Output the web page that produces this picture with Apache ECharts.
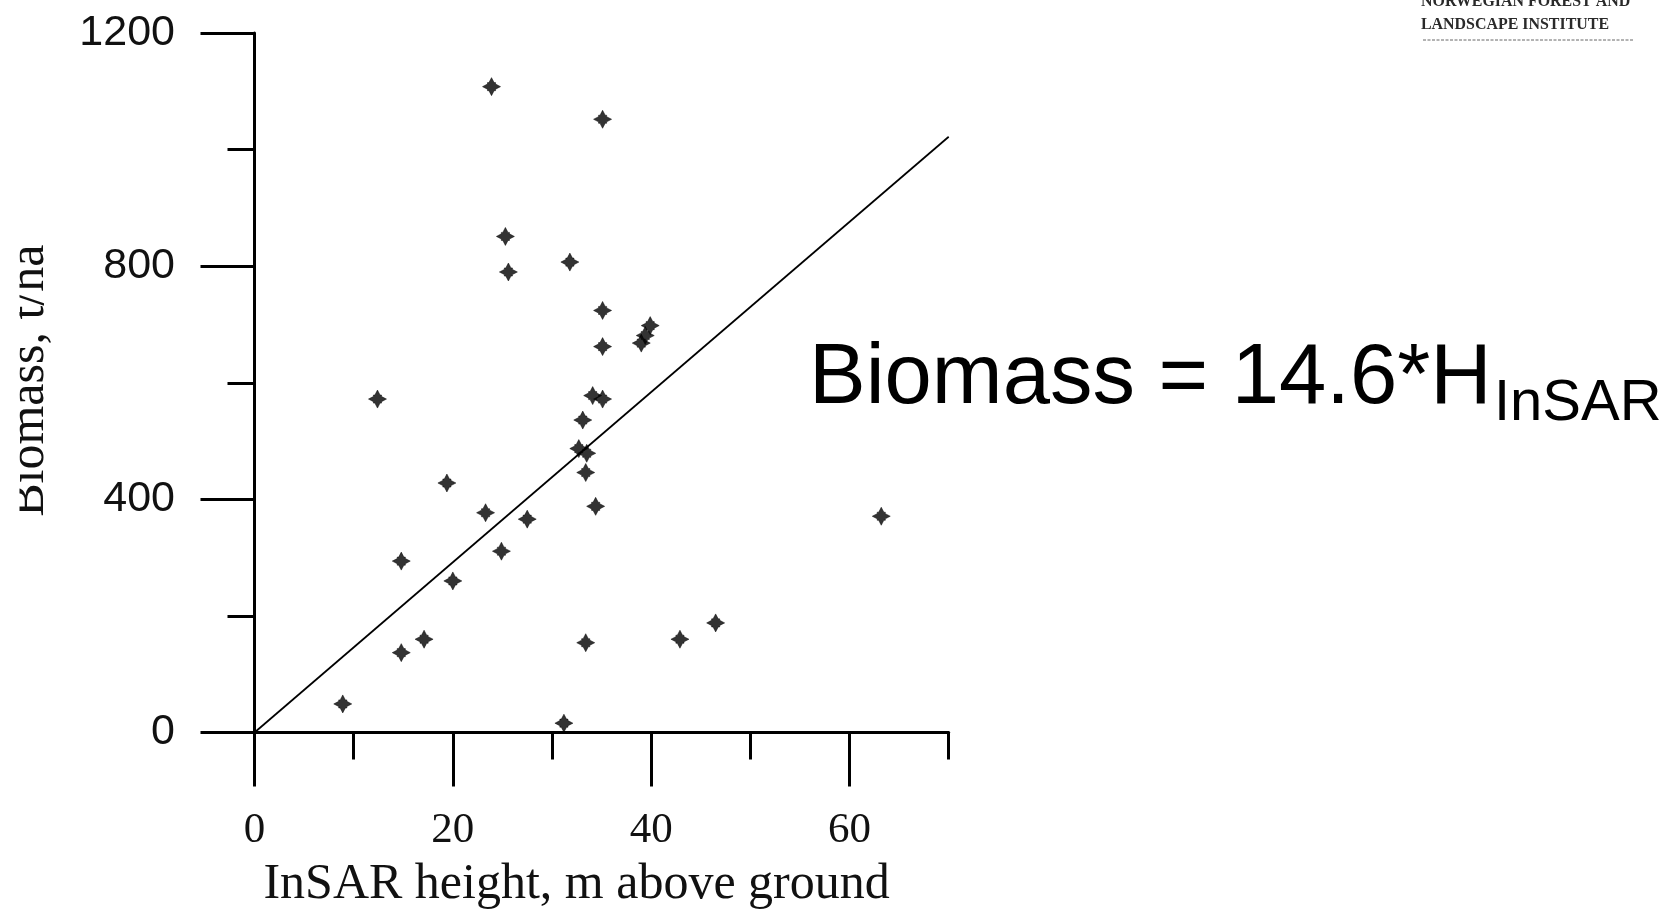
<!DOCTYPE html>
<html>
<head>
<meta charset="utf-8">
<script src="https://cdn.jsdelivr.net/npm/echarts@6/dist/echarts.min.js"></script>
<style>
html,body{margin:0;padding:0;background:#fff;}
#chart{width:1673px;height:910px;}
</style>
</head>
<body>
<div id="chart"></div>
<script>
// InSAR height (m above ground) and biomass (t/ha)
const insarHeight = [23.9, 35.1, 25.3, 25.6, 31.8, 35.1, 39.9, 39.4, 39.0, 35.1,
  12.4, 34.1, 35.1, 33.1, 32.7, 33.5, 33.4, 19.4, 23.3, 27.5,
  34.4, 63.2, 24.9, 14.8, 20.0, 46.5, 17.1, 42.9, 33.4, 14.8,
  8.9, 31.2];
const biomass = [1108, 1052, 851, 790, 807, 724, 698, 681, 668, 662,
  572, 578, 572, 536, 487, 479, 446, 428, 377, 366,
  388, 371, 311, 294, 260, 188, 160, 160, 154, 137,
  49, 16];
// fitted line endpoints
const fitX = [0, 70];
const fitY = [0, 1022];
// axis ticks
const xMajorTicks = [0, 20, 40, 60];
const xMin = 0, xMax = 70, xMinorInterval = 10;
const yMin = 0, yMax = 1200, yInterval = 400;
const equationMain = 'Biomass = 14.6*H';
const equationSub = 'InSAR';
const logoLines = ['NORWEGIAN FOREST AND', 'LANDSCAPE INSTITUTE'];

const points = insarHeight.map((h, i) => [h, biomass[i]]);
const fitData = fitX.map((x, i) => [x, fitY[i]]);

const chart = echarts.init(document.getElementById('chart'), null, {renderer: 'canvas'});
const black = '#000';
chart.setOption({
  animation: false,
  backgroundColor: '#fff',
  grid: {left: 254.5, top: 33, right: 724.3, bottom: 177.5, outerBoundsMode: 'none', containLabel: false},
  xAxis: [{
    type: 'value', position: 'bottom', min: xMin, max: xMax, interval: xMinorInterval,
    axisLine: {show: true, lineStyle: {color: black, width: 3}},
    axisTick: {show: true, length: 27, lineStyle: {color: black, width: 3}},
    axisLabel: {show: false},
    splitLine: {show: false}
  }, {
    type: 'value', position: 'bottom', min: xMin, max: xMax,
    axisLine: {show: false},
    axisTick: {show: true, customValues: xMajorTicks, length: 54, lineStyle: {color: black, width: 3}},
    axisLabel: {show: true, customValues: xMajorTicks, margin: 76.5, fontFamily: 'Liberation Serif', fontSize: 43, color: '#111',
      formatter: v => String(v)},
    splitLine: {show: false},
    name: 'InSAR height, m above ground', nameLocation: 'middle', nameGap: 127.5,
    nameTextStyle: {fontFamily: 'Liberation Serif', fontSize: 50, color: '#111', padding: [0, 50, 0, 0]}
  }],
  yAxis: {
    type: 'value', min: yMin, max: yMax, interval: yInterval,
    axisLine: {show: true, lineStyle: {color: black, width: 3}},
    axisTick: {show: true, length: 54, lineStyle: {color: black, width: 3}},
    minorTick: {show: true, splitNumber: 2, length: 27, lineStyle: {color: black, width: 3}},
    axisLabel: {margin: 79.5, fontFamily: 'Liberation Sans', fontSize: 43, color: '#111', formatter: v => String(v)},
    splitLine: {show: false}, minorSplitLine: {show: false},
    name: 'Biomass, t/ha', nameLocation: 'middle', nameGap: 200,
    nameTextStyle: {fontFamily: 'Liberation Serif', fontSize: 50, color: '#111', padding: [0, 0, 0, 4]}
  },
  series: [{
    type: 'line', xAxisIndex: 0, data: fitData, symbol: 'none',
    lineStyle: {color: black, width: 1.7}, z: 2, silent: true
  }, {
    type: 'scatter', xAxisIndex: 0, data: points,
    symbol: 'path://M8,0 L10.3,4.4 L11.6,4.4 L11.6,5.7 L16,8 L11.6,10.3 L11.6,11.6 L10.3,11.6 L8,16 L5.7,11.6 L4.4,11.6 L4.4,10.3 L0,8 L4.4,5.7 L4.4,4.4 L5.7,4.4 Z',
    symbolSize: 18, itemStyle: {color: black, borderColor: black, borderWidth: 0.6}, z: 3
  }],
  graphic: [
    {type: 'rect', z: 100, shape: {x: 0, y: 150, width: 19.5, height: 500}, style: {fill: '#fff'}},
    {type: 'text', z: 10, x: 809, y: 379.5, style: {text: equationMain, fontFamily: 'Liberation Sans', fontSize: 85, fill: '#000', verticalAlign: 'middle', align: 'left'}},
    {type: 'text', z: 10, x: 1494, y: 404, style: {text: equationSub, fontFamily: 'Liberation Sans', fontSize: 58, fill: '#000', verticalAlign: 'middle', align: 'left'}},
    {type: 'text', z: 10, x: 1421, y: 1.3, scaleX: 0.91, style: {text: logoLines[0], fontFamily: 'Liberation Serif', fontWeight: 'bold', fontSize: 17.5, fill: '#2a2a2a', verticalAlign: 'middle', align: 'left'}},
    {type: 'text', z: 10, x: 1421, y: 24.3, scaleX: 0.91, style: {text: logoLines[1], fontFamily: 'Liberation Serif', fontWeight: 'bold', fontSize: 17.5, fill: '#2a2a2a', verticalAlign: 'middle', align: 'left'}},
    {type: 'line', z: 10, shape: {x1: 1423, y1: 40, x2: 1633, y2: 40}, style: {stroke: '#666', lineWidth: 1, lineDash: [3, 1.5]}}
  ]
});
</script>
</body>
</html>
